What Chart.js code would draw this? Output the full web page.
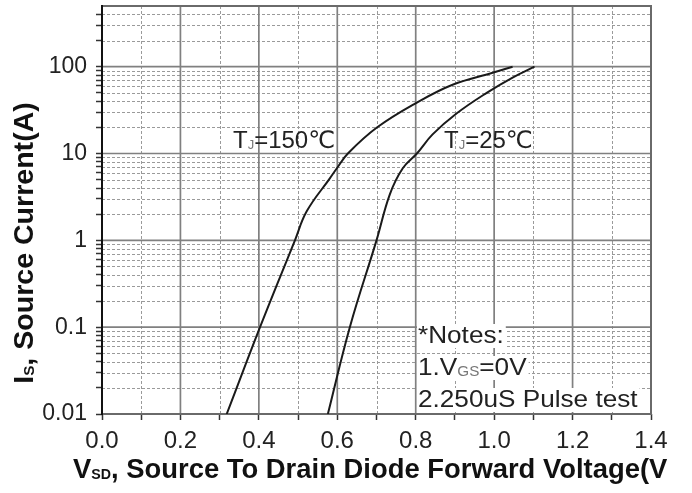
<!DOCTYPE html>
<html><head><meta charset="utf-8">
<script src="https://cdn.jsdelivr.net/npm/chart.js@4/dist/chart.umd.min.js"></script>
<style>html,body{margin:0;padding:0;background:#fff}</style>
</head><body>
<canvas id="c" width="692" height="493" style="width:692px;height:493px;display:block"></canvas>
<script>
// ---- data ----
const v150 = [0.318, 0.403, 0.492, 0.522, 0.581, 0.599, 0.627, 0.701, 0.803, 0.894, 0.996, 1.047];
const i150 = [0.01, 0.1, 1, 2.16, 5.18, 6.76, 10, 19.9, 38.6, 62, 85, 100];
const v25  = [0.576, 0.632, 0.700, 0.734, 0.767, 0.803, 0.843, 0.904, 0.981, 1.047, 1.103];
const i25  = [0.01, 0.1, 1, 3.39, 6.76, 10, 16.6, 28.9, 50, 75, 100];

// ---- axes / ticks ----
const xMajorTicks = [0, 0.2, 0.4, 0.6, 0.8, 1.0, 1.2, 1.4];
const xTickLabels = ['0.0', '0.2', '0.4', '0.6', '0.8', '1.0', '1.2', '1.4'];
const xMinorTicks = [0.1, 0.3, 0.5, 0.7, 0.9, 1.1, 1.3];
const yMajorTicks = [0.01, 0.1, 1, 10, 100];
const yTickLabels = ['0.01', '0.1', '1', '10', '100'];
const yMinorTicks = [0.02,0.03,0.04,0.05,0.06,0.07,0.08,0.09,
                     0.2,0.3,0.4,0.5,0.6,0.7,0.8,0.9,
                     2,3,4,5,6,7,8,9,
                     20,30,40,50,60,70,80,90,
                     200,300,400];
const xMin = 0, xMax = 1.4, yMin = 0.01, yMax = 500;

// ---- texts ----
const xTitle = [['V', false], ['SD', true], [', Source To Drain Diode Forward Voltage(V', false]];
const yTitle = [['I', false], ['S', true], [', Source Current(A)', false]];
const label150 = [['T', false], ['J', true], ['=150℃', false]];
const label25 = [['T', false], ['J', true], ['=25℃', false]];
const notesLines = [
  [['*Notes:', false]],
  [['1.V', false], ['GS', true], ['=0V', false]],
  [['2.250uS Pulse test', false]]
];

const FAM = "'Liberation Sans', Arial, 'DejaVu Sans', 'Noto Sans CJK SC', sans-serif";

function near(a, b) { return Math.abs(a - b) < 1e-9 * Math.max(1, Math.abs(b)); }
function nearRel(a, b) { return Math.abs(a - b) / b < 1e-6; }

// draws text segments (with subscripts) starting at x, baseline y; sx = horizontal stretch
function drawRich(ctx, x, y, segs, size, subSize, bold, color, subColor, sx, measureOnly) {
  let cx = 0;
  ctx.save();
  ctx.translate(x, y);
  ctx.scale(sx, 1);
  for (const [t, sub] of segs) {
    const s = sub ? subSize : size;
    ctx.font = (bold ? 'bold ' : '') + s + 'px ' + FAM;
    const w = ctx.measureText(t).width;
    if (!measureOnly) {
      ctx.fillStyle = sub ? subColor : color;
      ctx.fillText(t, cx, sub ? size * 0.05 : 0);
    }
    cx += w;
  }
  ctx.restore();
  return cx * sx;
}

const gridPlugin = {
  id: 'gridFrame',
  beforeDatasetsDraw(chart) {
    const {ctx, chartArea: a, scales: {x, y}} = chart;
    ctx.save();
    ctx.strokeStyle = '#9a9a9a';
    ctx.lineWidth = 1;
    ctx.setLineDash([3, 2]);
    ctx.beginPath();
    for (const v of xMinorTicks) { const px = Math.round(x.getPixelForValue(v)) + 0.5; ctx.moveTo(px, a.top); ctx.lineTo(px, a.bottom); }
    for (const v of yMinorTicks) { const py = Math.round(y.getPixelForValue(v)) + 0.5; ctx.moveTo(a.left, py); ctx.lineTo(a.right, py); }
    ctx.stroke();
    ctx.setLineDash([]);
    ctx.strokeStyle = '#808080';
    ctx.lineWidth = 1.7;
    ctx.beginPath();
    for (const v of xMajorTicks) { const px = x.getPixelForValue(v); ctx.moveTo(px, a.top); ctx.lineTo(px, a.bottom); }
    for (const v of yMajorTicks) { const py = y.getPixelForValue(v); ctx.moveTo(a.left, py); ctx.lineTo(a.right, py); }
    ctx.stroke();
    ctx.strokeStyle = '#6a6a6a';
    ctx.lineWidth = 2;
    ctx.strokeRect(a.left, a.top, a.right - a.left, a.bottom - a.top);
    ctx.strokeStyle = '#111';
    ctx.beginPath(); ctx.moveTo(a.left, a.top - 1); ctx.lineTo(a.left, a.bottom + 1); ctx.stroke();
    ctx.restore();
  }
};

const textPlugin = {
  id: 'texts',
  afterDraw(chart) {
    const {ctx} = chart;
    ctx.save();
    ctx.textBaseline = 'alphabetic';
    ctx.textAlign = 'left';
    drawRich(ctx, 73, 478, xTitle, 27, 14, true, '#111', '#111', 1.015);
    ctx.save();
    ctx.translate(33, 243);
    ctx.rotate(-Math.PI / 2);
    const w = drawRich(ctx, 0, 0, yTitle, 28, 15, true, '#111', '#111', 1.02, true);
    drawRich(ctx, -w / 2, 0, yTitle, 28, 15, true, '#111', '#111', 1.02);
    ctx.restore();
    drawRich(ctx, 233, 148, label150, 24, 13, false, '#222', '#777', 1.0);
    drawRich(ctx, 444, 148, label25, 24, 13, false, '#222', '#777', 1.0);
    const nx = 418, baselines = [343, 375, 407];
    notesLines.forEach((segs, i) => {
      const ww = drawRich(ctx, nx, baselines[i], segs, 24, 14, false, '#222', '#777', 1.09, true);
      ctx.fillStyle = '#fff';
      ctx.fillRect(nx - 1, baselines[i] - 19, ww + 3, 24);
      drawRich(ctx, nx, baselines[i], segs, 24, 14, false, '#222', '#777', 1.09);
    });
    ctx.restore();
  }
};

function dataset(vs, is) {
  return {
    data: vs.map((v, k) => ({x: v, y: is[k]})),
    showLine: true, borderColor: '#1a1a1a', borderWidth: 2, pointRadius: 0,
    tension: 0.4, fill: false
  };
}

new Chart(document.getElementById('c'), {
  type: 'scatter',
  data: { datasets: [dataset(v150, i150), dataset(v25, i25)] },
  options: {
    responsive: false, animation: false,
    layout: { padding: { left: 0, right: 41, top: 6, bottom: 0 } },
    plugins: { legend: { display: false }, tooltip: { enabled: false } },
    scales: {
      x: {
        type: 'linear', min: xMin, max: xMax,
        afterBuildTicks: s => { s.ticks = xMajorTicks.concat(xMinorTicks).sort((a, b) => a - b).map(v => ({value: v})); },
        afterFit: s => { s.height = 79; s.paddingLeft = 0; s.paddingRight = 0; },
        ticks: {
          autoSkip: false, maxRotation: 0, padding: 7, color: '#222',
          font: { family: FAM, size: 24 },
          callback: v => { const k = xMajorTicks.findIndex(m => near(m, v)); return k >= 0 ? xTickLabels[k] : ''; }
        },
        grid: { drawOnChartArea: false, drawTicks: true, tickLength: 6, tickColor: '#333', tickWidth: 1.5 },
        border: { display: false }
      },
      y: {
        type: 'logarithmic', min: yMin, max: yMax,
        afterBuildTicks: s => { s.ticks = yMajorTicks.concat(yMinorTicks).sort((a, b) => a - b).map(v => ({value: v})); },
        afterFit: s => { s.width = 102; s.paddingTop = 0; s.paddingBottom = 0; },
        ticks: {
          autoSkip: false, padding: 9, color: '#222',
          font: { family: FAM, size: 23 },
          callback: v => { const k = yMajorTicks.findIndex(m => nearRel(v, m)); return k >= 0 ? yTickLabels[k] : ''; }
        },
        grid: { drawOnChartArea: false, drawTicks: true, tickLength: 6, tickColor: '#333', tickWidth: 1.5 },
        border: { display: false }
      }
    }
  },
  plugins: [gridPlugin, textPlugin]
});
</script>
</body></html>
